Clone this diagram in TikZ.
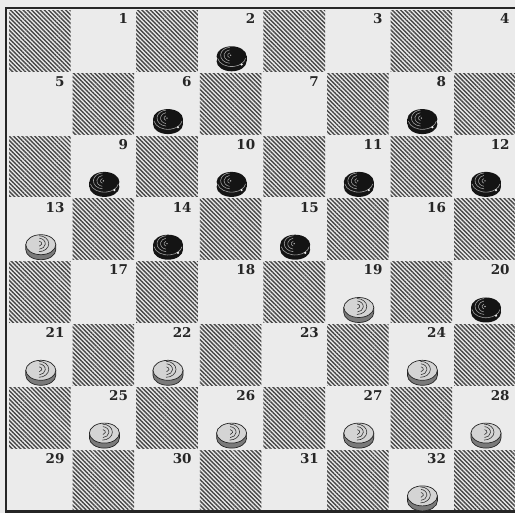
\documentclass[tikz,border=0pt]{standalone}
\usepackage{fontspec}
\newfontfamily\numfont{DejaVu Serif}
\usetikzlibrary{patterns.meta}
\definecolor{bg}{HTML}{EBEBEB}
\definecolor{hatch}{HTML}{474747}
\definecolor{ink}{HTML}{262626}
\definecolor{wtop}{HTML}{D4D4D4}
\definecolor{wside}{HTML}{7A7A7A}
\tikzset{
  darksq/.style={pattern={Lines[angle=-45,distance=3pt,line width=1.4pt]},pattern color=hatch},
  sqlabel/.style={anchor=north east,inner sep=0pt,font=\numfont\bfseries\fontsize{13.5}{13.5}\selectfont,text=ink},
  frame/.style={draw=ink,line width=2.2pt},
  blackpiece/.pic={
    \fill[black!92] (0,5) ellipse[x radius=15,y radius=10];
    \fill[black!92] (-15,0) rectangle (15,5);
    \fill[black!92] (0,0) ellipse[x radius=15,y radius=10];
    \draw[gray!75,line width=0.6pt] (-14,2) arc[start angle=170,end angle=10,x radius=14.2,y radius=10];
    \fill[white!90!gray] (10,8.2) circle[radius=1.2];
    \begin{scope}[shift={(-1,-1)},gray!70,line width=0.55pt]
      \draw (110:3 and 2.5) arc[start angle=110,end angle=250,x radius=3,y radius=2.5];
      \draw (100:6.5 and 5.5) arc[start angle=100,end angle=260,x radius=6.5,y radius=5.5];
      \draw (95:10 and 8) arc[start angle=95,end angle=265,x radius=10,y radius=8];
    \end{scope}
    \fill[gray!60] (-1,-1) circle[radius=0.8];
  },
  whitepiece/.pic={
    \filldraw[fill=wside,draw=black!85,line width=0.7pt] (-15,0) -- (-15,5) arc[start angle=180,end angle=0,x radius=15,y radius=10] -- (15,0) -- cycle;
    \filldraw[fill=wtop,draw=black!85,line width=0.7pt] (0,0) ellipse[x radius=15,y radius=10];
    \begin{scope}[shift={(-2,-1)},black!80,line width=0.6pt]
      \draw (-80:3 and 2.5) arc[start angle=-80,end angle=80,x radius=3,y radius=2.5];
      \draw (-85:6.5 and 5.5) arc[start angle=-85,end angle=85,x radius=6.5,y radius=5.5];
      \draw (-90:10 and 8) arc[start angle=-90,end angle=90,x radius=10,y radius=8];
    \end{scope}
  }
}
\begin{document}
\begin{tikzpicture}[x=1pt,y=-1pt]
  \useasboundingbox (0,0) rectangle (515,513);
  \clip (0,0) rectangle (515,513);
  \fill[bg] (0,0) rectangle (515,513);
  \def\xo{8}\def\yo{9.5}\def\cw{63.6}\def\ch{62.8}
  % dark squares
  \foreach \r in {0,...,7} {
    \foreach \c in {0,...,7} {
      \pgfmathtruncatemacro\pty{mod(\r+\c,2)}
      \ifnum\pty=0
        \pgfmathsetmacro\xa{\xo+\c*\cw+1}
        \pgfmathsetmacro\ya{\yo+\r*\ch+1}
        \pgfmathsetmacro\xb{\xo+(\c+1)*\cw-1}
        \pgfmathsetmacro\yb{\yo+(\r+1)*\ch-1}
        \fill[darksq] (\xa,\ya) rectangle (\xb,\yb);
      \fi
    }
  }
  % frame
  \draw[frame] (6,8) rectangle (520,511.5);
  % labels
  \foreach \n in {1,...,32} {
    \pgfmathtruncatemacro\r{(\n-1)/4}
    \pgfmathtruncatemacro\i{mod(\n-1,4)}
    \pgfmathtruncatemacro\c{2*\i+1-mod(\r,2)}
    \pgfmathsetmacro\xr{\xo+(\c+1)*\cw-7}
    \pgfmathsetmacro\yt{\yo+\r*\ch+4}
    \node[sqlabel] (l\n) at (\xr,\yt) {\n};
  }
  % black pieces
  \foreach \n in {2,6,8,9,10,11,12,14,15,20} {
    \pgfmathtruncatemacro\r{(\n-1)/4}
    \pgfmathtruncatemacro\i{mod(\n-1,4)}
    \pgfmathtruncatemacro\c{2*\i+1-mod(\r,2)}
    \pgfmathsetmacro\cx{\xo+(\c+0.5)*\cw+1}
    \pgfmathsetmacro\cy{\yo+(\r+1)*\ch-16}
    \pic at (\cx,\cy) {blackpiece};
  }
  % white pieces
  \foreach \n in {13,19,21,22,24,25,26,27,28,32} {
    \pgfmathtruncatemacro\r{(\n-1)/4}
    \pgfmathtruncatemacro\i{mod(\n-1,4)}
    \pgfmathtruncatemacro\c{2*\i+1-mod(\r,2)}
    \pgfmathsetmacro\cx{\xo+(\c+0.5)*\cw+1}
    \pgfmathsetmacro\cy{\yo+(\r+1)*\ch-16}
    \pic at (\cx,\cy) {whitepiece};
  }
\end{tikzpicture}
\end{document}
